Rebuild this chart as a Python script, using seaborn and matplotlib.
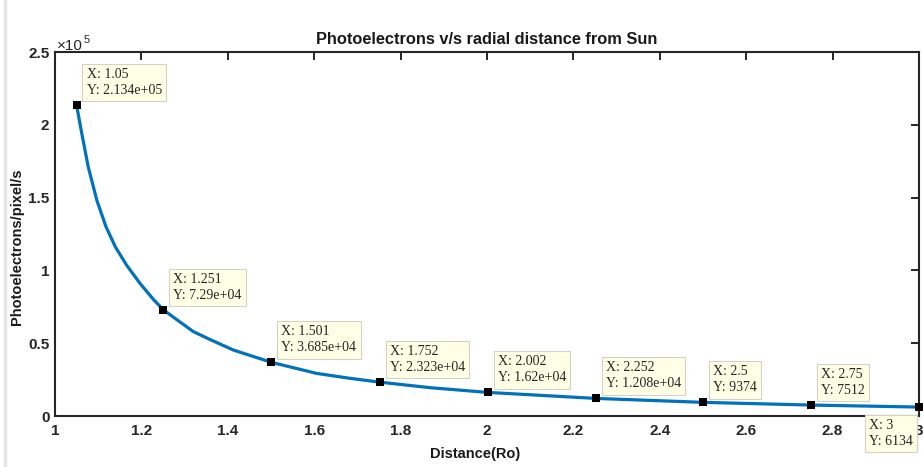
import matplotlib
matplotlib.use("Agg")
import matplotlib.pyplot as plt
import matplotlib.ticker as mticker
from matplotlib.lines import Line2D
import seaborn as sns
import pandas as pd

# ---- data ----
distance = [1.05, 1.062, 1.077, 1.097, 1.118, 1.140, 1.166, 1.197, 1.228, 1.251,
            1.285, 1.32, 1.359, 1.413, 1.501, 1.605, 1.68, 1.752, 1.87, 2.002,
            2.252, 2.5, 2.75, 3.0]
photoelectrons = [213400, 194000, 171000, 148000, 130000, 116000, 103500, 91000,
                  80000, 72900, 65500, 58000, 52500, 45300, 36850, 29300, 26000,
                  23230, 19400, 16200, 12080, 9374, 7512, 6134]

tip_x = [1.05, 1.251, 1.501, 1.752, 2.002, 2.252, 2.5, 2.75, 3.0]
tip_y = [213400, 72900, 36850, 23230, 16200, 12080, 9374, 7512, 6134]
tip_labels = ["X: 1.05\nY: 2.134e+05", "X: 1.251\nY: 7.29e+04",
              "X: 1.501\nY: 3.685e+04", "X: 1.752\nY: 2.323e+04",
              "X: 2.002\nY: 1.62e+04", "X: 2.252\nY: 1.208e+04",
              "X: 2.5\nY: 9374", "X: 2.75\nY: 7512", "X: 3\nY: 6134"]

x_ticks = [1, 1.2, 1.4, 1.6, 1.8, 2, 2.2, 2.4, 2.6, 2.8, 3]
y_ticks = [0, 50000, 100000, 150000, 200000, 250000]

sns.set_style("white")
plt.rcParams['font.family'] = ['Liberation Sans', 'DejaVu Sans']

W, H = 923, 467
fig = plt.figure(figsize=(W / 100, H / 100), dpi=100)
ax = fig.add_axes([55 / W, 1 - 416 / H, (919 - 55) / W, (416 - 52) / H])

df = pd.DataFrame({"x": distance, "y": photoelectrons})
sns.lineplot(data=df, x="x", y="y", ax=ax, color="#0072BD", lw=2.3, sort=True)
tips = pd.DataFrame({"x": tip_x, "y": tip_y})
sns.scatterplot(data=tips, x="x", y="y", ax=ax, marker="s", color="black",
                s=28, edgecolor="black", linewidth=0, zorder=5, clip_on=False)

ax.set_xlim(1, 3)
ax.set_ylim(0, 250000)
ax.set_xticks(x_ticks)
ax.set_yticks(y_ticks)
ax.xaxis.set_major_formatter(mticker.FuncFormatter(lambda v, p: f"{v:g}"))
ax.yaxis.set_major_formatter(mticker.FuncFormatter(lambda v, p: f"{v / 1e5:g}"))
ax.set_xlabel("")
ax.set_ylabel("")

for s in ax.spines.values():
    s.set_visible(True)
    s.set_color("#262626")
    s.set_linewidth(1.5)
ax.tick_params(direction="in", length=6, width=1.4, color="#262626",
               top=True, right=True, labelsize=11, labelcolor="#262626")
ax.tick_params(axis="x", pad=6)
ax.tick_params(axis="y", pad=4)
for lab in ax.get_xticklabels() + ax.get_yticklabels():
    lab.set_fontweight("bold")

# data tips
bbox = dict(boxstyle="square,pad=0.3", fc="#FFFFE6", ec="#d2d2c8", lw=0.8)
for xv, yv, lab in zip(tip_x, tip_y, tip_labels):
    if xv >= 3.0:
        ax.annotate(lab, xy=(xv, yv), xytext=(-50, -12), textcoords="offset pixels",
                    ha="left", va="top", family="Liberation Serif", fontsize=10,
                    bbox=bbox, annotation_clip=False, linespacing=1.3, zorder=6)
    else:
        ax.annotate(lab, xy=(xv, yv), xytext=(10, 8), textcoords="offset pixels",
                    ha="left", va="bottom", family="Liberation Serif", fontsize=10,
                    bbox=bbox, annotation_clip=False, linespacing=1.3, zorder=6)

# titles / labels
fig.text(487 / W, 1 - 40 / H, "Photoelectrons v/s radial distance from Sun",
         ha="center", va="center", fontsize=11.8, fontweight="bold", color="#1a1a1a")
fig.text(475 / W, 1 - 454 / H, "Distance(Ro)", ha="center", va="center",
         fontsize=10.5, fontweight="bold", color="#1a1a1a")
fig.text(17 / W, 1 - 247 / H, "Photoelectrons/pixel/s", ha="center", va="center",
         rotation=90, fontsize=10.5, fontweight="bold", color="#1a1a1a")
fig.text(57 / W, 1 - 50 / H, "\u00d710", ha="left", va="baseline",
         fontsize=11, color="#262626")
fig.text(84 / W, 1 - 43 / H, "5", ha="left", va="baseline",
         fontsize=8, color="#262626")

# light screenshot border on the left edge
fig.add_artist(Line2D([4.5 / W, 4.5 / W], [0, 1], transform=fig.transFigure,
                      color="#e4e4e4", lw=2.5))

fig.savefig("out.png", dpi=100)
